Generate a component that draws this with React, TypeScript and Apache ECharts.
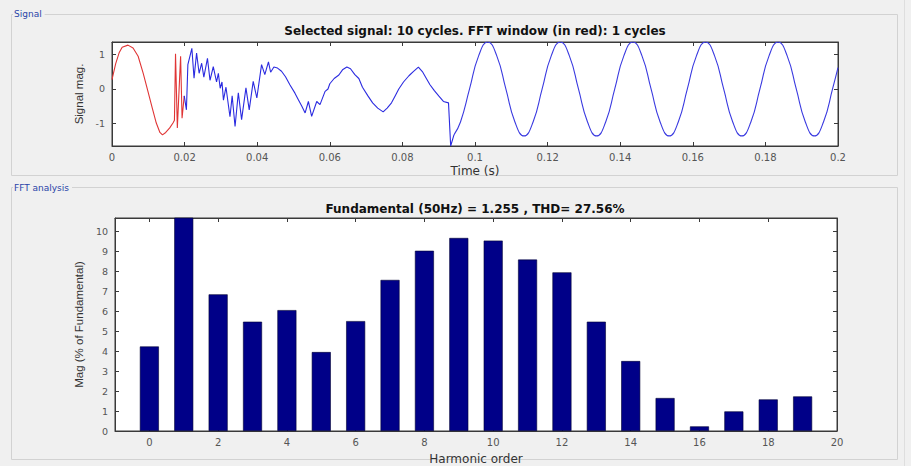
import React, { useEffect, useRef } from "react";
import * as echarts from "echarts";

// ---- Signal panel data (time in s, magnitude) ----
const redT = [0, 0.001, 0.002, 0.0028, 0.0044, 0.0058, 0.0072, 0.0086, 0.0099, 0.0111, 0.0122, 0.0132, 0.0139, 0.0148, 0.0159, 0.0168, 0.0172, 0.0175, 0.018, 0.0184, 0.0189, 0.0193, 0.0199];
const redV = [0.27, 0.72, 1.05, 1.2, 1.26, 1.18, 0.94, 0.45, -0.07, -0.55, -0.98, -1.25, -1.32, -1.25, -1.12, -0.98, -0.9, 1.01, -1.12, -0.2, 0.94, -0.84, -0.2];

const blueT = [0.0199, 0.0205, 0.0209, 0.022, 0.0226, 0.0233, 0.024, 0.0247, 0.0253, 0.0263, 0.027, 0.0279, 0.0288, 0.0293, 0.0298, 0.0303, 0.0307, 0.0314, 0.0325, 0.0331, 0.0339, 0.0348, 0.0357, 0.0369, 0.0378, 0.0389, 0.0399, 0.0412, 0.0421, 0.0431, 0.0437, 0.0446, 0.0456, 0.0467, 0.0478, 0.049, 0.0504, 0.0513, 0.0523, 0.0532, 0.0541, 0.055, 0.0564, 0.0573, 0.0587, 0.0595, 0.06, 0.0612, 0.0625, 0.0635, 0.0647, 0.0657, 0.0669, 0.068, 0.069, 0.0705, 0.0718, 0.0732, 0.0747, 0.0758, 0.077, 0.078, 0.079, 0.0803, 0.0818, 0.083, 0.0844, 0.0855, 0.0866, 0.0876, 0.0888, 0.09, 0.0913, 0.0927, 0.0933, 0.0942];
const blueV = [-0.2, -0.6, 0.7, 1.17, 0.31, 1.03, 0.45, 0.74, 0.34, 0.88, 0.25, 0.64, 0.2, 0.45, 0.02, 0.2, -0.32, 0.05, -0.8, -0.2, -1.08, -0.11, -0.88, 0.03, -0.6, 0.22, -0.26, 0.7, 0.41, 0.78, 0.48, 0.63, 0.6, 0.51, 0.35, 0.12, -0.12, -0.3, -0.5, -0.69, -0.36, -0.79, -0.36, -0.45, -0.07, 0.0, 0.15, 0.3, 0.4, 0.55, 0.63, 0.58, 0.41, 0.3, 0.05, -0.2, -0.4, -0.55, -0.66, -0.55, -0.4, -0.2, 0.0, 0.2, 0.38, 0.5, 0.63, 0.5, 0.3, 0.12, -0.05, -0.2, -0.36, -0.4, -1.64, -1.32];

const sineT = [0.0942, 0.096, 0.0985, 0.101, 0.1035, 0.106, 0.1085, 0.111, 0.1135, 0.116, 0.1185, 0.121, 0.1235, 0.126, 0.1285, 0.131, 0.1335, 0.136, 0.1385, 0.141, 0.1435, 0.146, 0.1485, 0.151, 0.1535, 0.156, 0.1585, 0.161, 0.1635, 0.166, 0.1685, 0.171, 0.1735, 0.176, 0.1785, 0.181, 0.1835, 0.186, 0.1885, 0.191, 0.1935, 0.196, 0.1985, 0.2];
const sineV = [-1.32, -0.95, 0, 0.95, 1.35, 0.95, 0, -0.95, -1.35, -0.95, 0, 0.95, 1.35, 0.95, 0, -0.95, -1.35, -0.95, 0, 0.95, 1.35, 0.95, 0, -0.95, -1.35, -0.95, 0, 0.95, 1.35, 0.95, 0, -0.95, -1.35, -0.95, 0, 0.95, 1.35, 0.95, 0, -0.95, -1.35, -0.95, 0, 0.61];

const sigYTicks = [-1, 0, 1];

// ---- FFT panel data ----
const harmOrder = [0, 1, 2, 3, 4, 5, 6, 7, 8, 9, 10, 11, 12, 13, 14, 15, 16, 17, 18, 19];
const harmMag = [4.23, 100, 6.84, 5.47, 6.05, 3.95, 5.5, 7.56, 9.02, 9.66, 9.53, 8.58, 7.94, 5.47, 3.5, 1.65, 0.23, 0.98, 1.58, 1.73];
const harmXTicks = [0, 2, 4, 6, 8, 10, 12, 14, 16, 18, 20];
const harmYTicks = [0, 1, 2, 3, 4, 5, 6, 7, 8, 9, 10];

const topTitle = "Selected signal: 10 cycles. FFT window (in red): 1 cycles";
const bottomTitle = "Fundamental (50Hz) = 1.255 , THD= 27.56%";

const WIDE = "'DejaVu Sans', Verdana, sans-serif";
const NARROW = "'Liberation Sans', Arial, Helvetica, sans-serif";
const AX = "#3a3a3a";
const LBL = "#555555";

function zip(a: number[], b: number[]) {
  return a.map((v, i) => [v, b[i]]);
}

export default function App() {
  const ref = useRef<HTMLDivElement>(null);
  useEffect(() => {
    document.body.style.margin = "0";
    const chart = echarts.init(ref.current!, undefined, { renderer: "svg" });
    const axisBase = {
      axisLine: { show: true, onZero: false, lineStyle: { color: AX, width: 1 } },
      axisTick: { show: true, inside: true, length: 4, lineStyle: { color: AX } },
      splitLine: { show: false },
    };
    const xName = { color: "#333", fontSize: 12, fontFamily: WIDE };
    const yName = { color: "#333", fontSize: 11.5, fontFamily: NARROW };
    const xLbl = { color: LBL, fontSize: 10, fontFamily: WIDE };
    const yLbl = { color: LBL, fontSize: 9.5, fontFamily: WIDE };
    const titleStyle = { fontSize: 12, fontWeight: "bold", color: "#111", fontFamily: WIDE };
    chart.setOption({
      animation: false,
      backgroundColor: "#f0f0f0",
      title: [
        { text: topTitle, left: 475, top: 25, padding: 0, textAlign: "center", textStyle: titleStyle },
        { text: bottomTitle, left: 475, top: 203, padding: 0, textAlign: "center", textStyle: titleStyle },
      ],
      grid: [
        { left: 112, top: 42, width: 726, height: 104, show: true, backgroundColor: "#ffffff", borderColor: AX, borderWidth: 1 },
        { left: 115, top: 218, width: 722, height: 220, show: true, backgroundColor: "#ffffff", borderColor: AX, borderWidth: 1 },
      ],
      xAxis: [
        { ...axisBase, gridIndex: 0, type: "value", min: 0, max: 0.2, interval: 0.02, position: "bottom", axisLabel: { ...xLbl, margin: 6 }, name: "Time (s)", nameLocation: "middle", nameGap: 19, nameTextStyle: xName },
        { ...axisBase, gridIndex: 0, type: "value", min: 0, max: 0.2, interval: 0.02, position: "top", axisLabel: { show: false } },
        { ...axisBase, gridIndex: 1, type: "value", min: -1, max: 20, position: "bottom", axisTick: { ...axisBase.axisTick, customValues: harmXTicks }, axisLabel: { ...xLbl, margin: 6, customValues: harmXTicks }, name: "Harmonic order", nameLocation: "middle", nameGap: 22, nameTextStyle: xName },
        { ...axisBase, gridIndex: 1, type: "value", min: -1, max: 20, position: "top", axisTick: { ...axisBase.axisTick, customValues: harmXTicks }, axisLabel: { show: false } },
      ],
      yAxis: [
        { ...axisBase, gridIndex: 0, type: "value", min: -1.64, max: 1.35, position: "left", axisTick: { ...axisBase.axisTick, customValues: sigYTicks }, axisLabel: { ...yLbl, margin: 7, customValues: sigYTicks }, name: "Signal mag.", nameLocation: "middle", nameGap: 22, nameTextStyle: yName },
        { ...axisBase, gridIndex: 0, type: "value", min: -1.64, max: 1.35, position: "right", axisTick: { ...axisBase.axisTick, customValues: sigYTicks }, axisLabel: { show: false } },
        { ...axisBase, gridIndex: 1, type: "value", min: 0, max: 10.66, position: "left", axisTick: { ...axisBase.axisTick, customValues: harmYTicks }, axisLabel: { ...yLbl, margin: 7, customValues: harmYTicks }, name: "Mag (% of Fundamental)", nameLocation: "middle", nameGap: 25, nameTextStyle: yName },
        { ...axisBase, gridIndex: 1, type: "value", min: 0, max: 10.66, position: "right", axisTick: { ...axisBase.axisTick, customValues: harmYTicks }, axisLabel: { show: false } },
      ],
      graphic: [
        { type: "rect", silent: true, z: -10, shape: { x: 11.5, y: 14.5, width: 886, height: 161 }, style: { fill: "none", stroke: "#d2d2d2", lineWidth: 1 } },
        { type: "rect", silent: true, z: -10, shape: { x: 11.5, y: 187.5, width: 886, height: 272 }, style: { fill: "none", stroke: "#d2d2d2", lineWidth: 1 } },
        { type: "line", silent: true, z: -10, shape: { x1: 904.5, y1: 0, x2: 904.5, y2: 466 }, style: { stroke: "#dedede", lineWidth: 1 } },
        { type: "text", silent: true, x: 13, y: 14, style: { text: "Signal", fontSize: 9, fontFamily: WIDE, fill: "#2a44a8", verticalAlign: "middle", backgroundColor: "#f0f0f0", padding: [0, 3, 0, 1] } },
        { type: "text", silent: true, x: 13, y: 188, style: { text: "FFT analysis", fontSize: 9, fontFamily: WIDE, fill: "#2a44a8", verticalAlign: "middle", backgroundColor: "#f0f0f0", padding: [0, 3, 0, 1] } },
      ],
      series: [
        { type: "line", xAxisIndex: 0, yAxisIndex: 0, data: zip(redT, redV), showSymbol: false, lineStyle: { color: "#e03535", width: 1.1 } },
        { type: "line", xAxisIndex: 0, yAxisIndex: 0, data: zip(blueT, blueV), showSymbol: false, lineStyle: { color: "#2b2be0", width: 1.1 } },
        { type: "line", xAxisIndex: 0, yAxisIndex: 0, data: zip(sineT, sineV), showSymbol: false, smooth: true, lineStyle: { color: "#3a3ae0", width: 1.1 } },
        { type: "bar", xAxisIndex: 2, yAxisIndex: 2, data: zip(harmOrder, harmMag), barWidth: 19, clip: true, itemStyle: { color: "#000088", borderColor: "#000033", borderWidth: 0.6 } },
      ],
    });
    return () => chart.dispose();
  }, []);
  return <div ref={ref} style={{ width: 911, height: 466 }} />;
}
